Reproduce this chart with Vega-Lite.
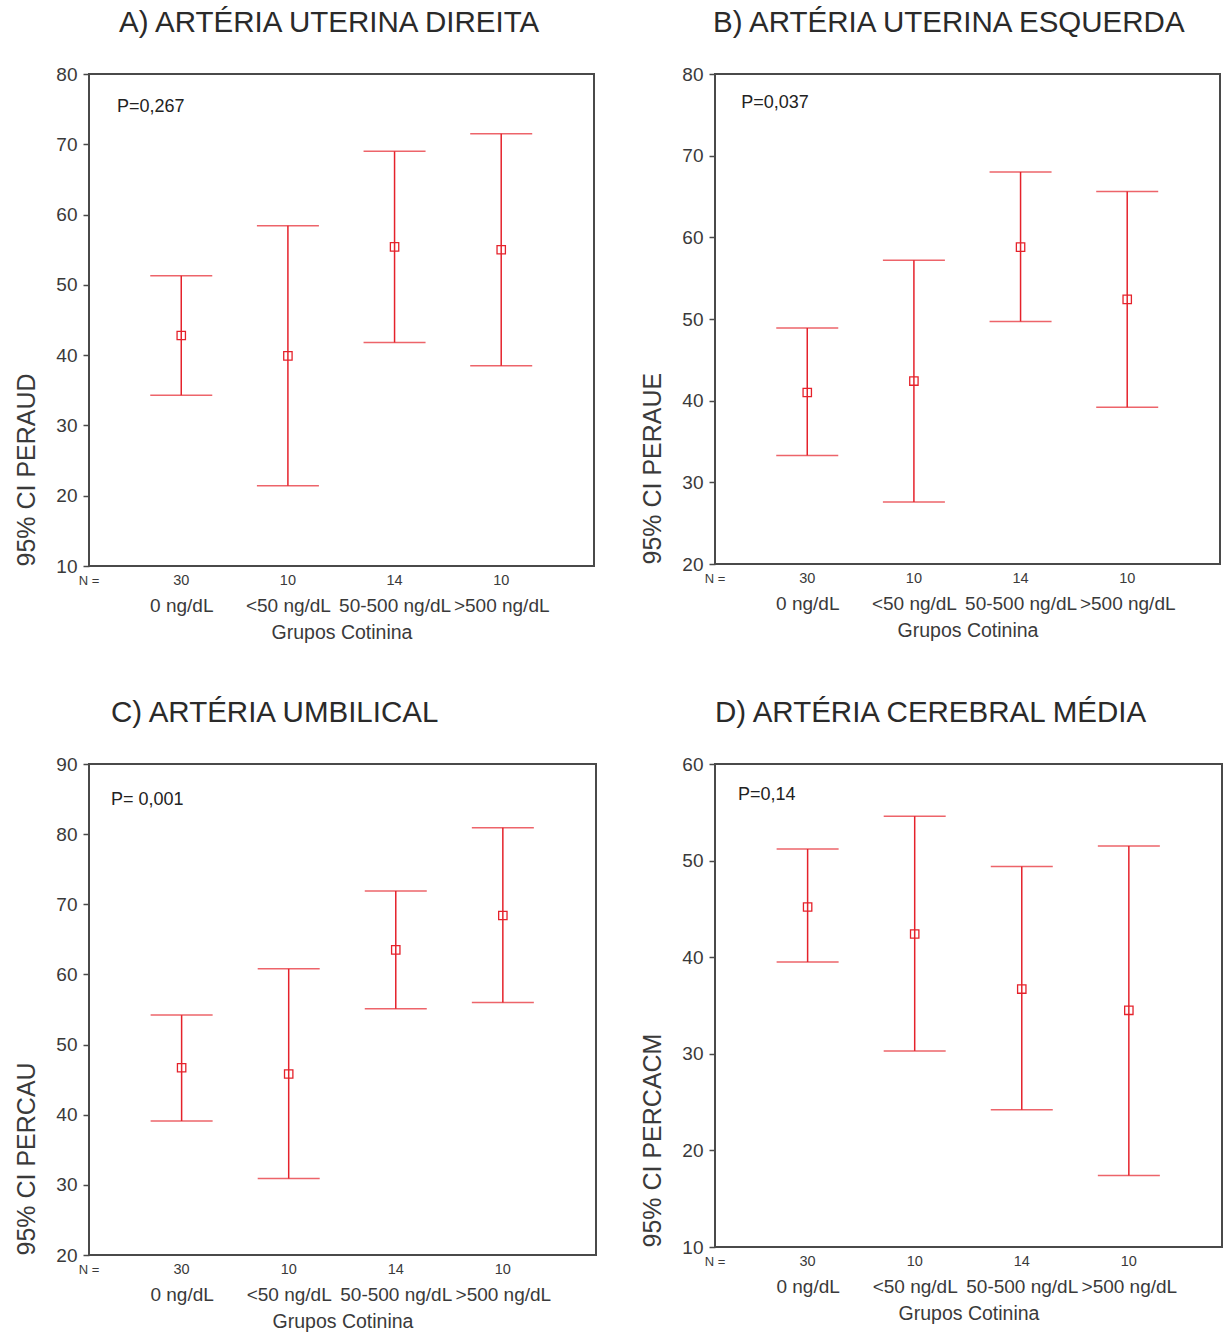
{
  "$schema": "https://vega.github.io/schema/vega-lite/v6.json",
  "padding": {"left": 13, "top": 6, "right": 5, "bottom": 5},
  "background": "white",
  "columns": 2,
  "spacing": {"row": 53, "column": 42},
  "config": {
    "font": "Liberation Sans",
    "view": {"stroke": "#4a4a4a", "strokeWidth": 2},
    "title": {"fontSize": 29.5, "fontWeight": "normal", "color": "#2a2a2a", "anchor": "start", "frame": "group", "offset": 27},
    "axis": {"grid": false, "domain": false, "labelFont": "Liberation Sans", "titleFont": "Liberation Sans", "labelColor": "#3a3a3a", "titleColor": "#3a3a3a", "titleFontWeight": "normal"},
    "axisY": {"tickSize": 6, "tickColor": "#4a4a4a", "tickWidth": 1.5, "labelFontSize": 19, "labelPadding": 6, "titleFontSize": 25, "titleAnchor": "start", "titlePadding": 16, "labelFlush": false},
    "axisX": {"ticks": false, "tickSize": 0, "labelFontSize": 19, "labelPadding": 30, "titleFontSize": 19.5, "titlePadding": 8, "labelFlush": false, "values": [1, 2, 3, 4], "labelExpr": "['', '0 ng/dL', '<50 ng/dL', '50-500 ng/dL', '>500 ng/dL'][datum.value]"}
  },
  "datasets": {
    "ci": [
      {"panel": "A", "pos": 1, "grupo": "0 ng/dL", "n": 30, "lo": 34.3, "mean": 42.8, "hi": 51.3},
      {"panel": "A", "pos": 2, "grupo": "<50 ng/dL", "n": 10, "lo": 21.4, "mean": 39.9, "hi": 58.4},
      {"panel": "A", "pos": 3, "grupo": "50-500 ng/dL", "n": 14, "lo": 41.8, "mean": 55.4, "hi": 69.0},
      {"panel": "A", "pos": 4, "grupo": ">500 ng/dL", "n": 10, "lo": 38.5, "mean": 55.0, "hi": 71.5},
      {"panel": "B", "pos": 1, "grupo": "0 ng/dL", "n": 30, "lo": 33.3, "mean": 41.0, "hi": 48.9},
      {"panel": "B", "pos": 2, "grupo": "<50 ng/dL", "n": 10, "lo": 27.6, "mean": 42.4, "hi": 57.2},
      {"panel": "B", "pos": 3, "grupo": "50-500 ng/dL", "n": 14, "lo": 49.7, "mean": 58.8, "hi": 68.0},
      {"panel": "B", "pos": 4, "grupo": ">500 ng/dL", "n": 10, "lo": 39.2, "mean": 52.4, "hi": 65.6},
      {"panel": "C", "pos": 1, "grupo": "0 ng/dL", "n": 30, "lo": 39.1, "mean": 46.7, "hi": 54.2},
      {"panel": "C", "pos": 2, "grupo": "<50 ng/dL", "n": 10, "lo": 30.9, "mean": 45.8, "hi": 60.8},
      {"panel": "C", "pos": 3, "grupo": "50-500 ng/dL", "n": 14, "lo": 55.1, "mean": 63.5, "hi": 71.9},
      {"panel": "C", "pos": 4, "grupo": ">500 ng/dL", "n": 10, "lo": 56.0, "mean": 68.4, "hi": 80.9},
      {"panel": "D", "pos": 1, "grupo": "0 ng/dL", "n": 30, "lo": 39.5, "mean": 45.2, "hi": 51.2},
      {"panel": "D", "pos": 2, "grupo": "<50 ng/dL", "n": 10, "lo": 30.3, "mean": 42.4, "hi": 54.6},
      {"panel": "D", "pos": 3, "grupo": "50-500 ng/dL", "n": 14, "lo": 24.2, "mean": 36.7, "hi": 49.4},
      {"panel": "D", "pos": 4, "grupo": ">500 ng/dL", "n": 10, "lo": 17.4, "mean": 34.5, "hi": 51.5}
    ]
  },
  "concat": [
    {
      "width": 505, "height": 492,
      "title": {"text": "A) ARTÉRIA UTERINA DIREITA", "dx": 30},
      "data": {"name": "ci"},
      "transform": [{"filter": "datum.panel == 'A'"}],
      "encoding": {"x": {"field": "pos", "type": "quantitative", "scale": {"domain": [0.135, 4.87]}, "title": "Grupos Cotinina"}},
      "layer": [
        {"mark": {"type": "rule", "color": "#e5222b", "strokeWidth": 1.5}, "encoding": {"y": {"field": "lo", "type": "quantitative", "scale": {"domain": [10, 80]}, "axis": {"values": [10, 20, 30, 40, 50, 60, 70, 80]}, "title": "95% CI PERAUD"}, "y2": {"field": "hi"}}},
        {"mark": {"type": "tick", "orient": "horizontal", "size": 62, "thickness": 1.5, "color": "#e5222b"}, "encoding": {"y": {"field": "lo", "type": "quantitative", "title": "95% CI PERAUD"}}},
        {"mark": {"type": "tick", "orient": "horizontal", "size": 62, "thickness": 1.5, "color": "#e5222b"}, "encoding": {"y": {"field": "hi", "type": "quantitative", "title": "95% CI PERAUD"}}},
        {"mark": {"type": "point", "shape": "square", "filled": false, "size": 70, "strokeWidth": 1.3, "color": "#e5222b", "opacity": 1}, "encoding": {"y": {"field": "mean", "type": "quantitative", "title": "95% CI PERAUD"}}},
        {"mark": {"type": "text", "dy": 15, "fontSize": 14.5, "baseline": "middle", "color": "#3a3a3a"}, "encoding": {"y": {"datum": 10, "type": "quantitative", "title": "95% CI PERAUD"}, "text": {"field": "n"}}},
        {"transform": [{"filter": "datum.pos == 1"}], "mark": {"type": "text", "text": "N =", "dy": 15, "fontSize": 13, "baseline": "middle", "color": "#3a3a3a"}, "encoding": {"x": {"datum": 0.135, "type": "quantitative"}, "y": {"datum": 10, "type": "quantitative", "title": "95% CI PERAUD"}}},
        {"transform": [{"filter": "datum.pos == 1"}], "mark": {"type": "text", "text": "P=0,267", "align": "left", "baseline": "middle", "fontSize": 18, "color": "#222"}, "encoding": {"x": {"datum": 0.397, "type": "quantitative"}, "y": {"datum": 75.3, "type": "quantitative", "title": "95% CI PERAUD"}}}
      ]
    },
    {
      "width": 505, "height": 490,
      "title": {"text": "B) ARTÉRIA UTERINA ESQUERDA", "dx": -2},
      "data": {"name": "ci"},
      "transform": [{"filter": "datum.panel == 'B'"}],
      "encoding": {"x": {"field": "pos", "type": "quantitative", "scale": {"domain": [0.135, 4.87]}, "title": "Grupos Cotinina"}},
      "layer": [
        {"mark": {"type": "rule", "color": "#e5222b", "strokeWidth": 1.5}, "encoding": {"y": {"field": "lo", "type": "quantitative", "scale": {"domain": [20, 80]}, "axis": {"values": [20, 30, 40, 50, 60, 70, 80]}, "title": "95% CI PERAUE"}, "y2": {"field": "hi"}}},
        {"mark": {"type": "tick", "orient": "horizontal", "size": 62, "thickness": 1.5, "color": "#e5222b"}, "encoding": {"y": {"field": "lo", "type": "quantitative", "title": "95% CI PERAUE"}}},
        {"mark": {"type": "tick", "orient": "horizontal", "size": 62, "thickness": 1.5, "color": "#e5222b"}, "encoding": {"y": {"field": "hi", "type": "quantitative", "title": "95% CI PERAUE"}}},
        {"mark": {"type": "point", "shape": "square", "filled": false, "size": 70, "strokeWidth": 1.3, "color": "#e5222b", "opacity": 1}, "encoding": {"y": {"field": "mean", "type": "quantitative", "title": "95% CI PERAUE"}}},
        {"mark": {"type": "text", "dy": 15, "fontSize": 14.5, "baseline": "middle", "color": "#3a3a3a"}, "encoding": {"y": {"datum": 20, "type": "quantitative", "title": "95% CI PERAUE"}, "text": {"field": "n"}}},
        {"transform": [{"filter": "datum.pos == 1"}], "mark": {"type": "text", "text": "N =", "dy": 15, "fontSize": 13, "baseline": "middle", "color": "#3a3a3a"}, "encoding": {"x": {"datum": 0.135, "type": "quantitative"}, "y": {"datum": 20, "type": "quantitative", "title": "95% CI PERAUE"}}},
        {"transform": [{"filter": "datum.pos == 1"}], "mark": {"type": "text", "text": "P=0,037", "align": "left", "baseline": "middle", "fontSize": 18, "color": "#222"}, "encoding": {"x": {"datum": 0.38, "type": "quantitative"}, "y": {"datum": 76.45, "type": "quantitative", "title": "95% CI PERAUE"}}}
      ]
    },
    {
      "width": 507, "height": 491,
      "title": {"text": "C) ARTÉRIA UMBILICAL", "dx": 22},
      "data": {"name": "ci"},
      "transform": [{"filter": "datum.panel == 'C'"}],
      "encoding": {"x": {"field": "pos", "type": "quantitative", "scale": {"domain": [0.135, 4.87]}, "title": "Grupos Cotinina"}},
      "layer": [
        {"mark": {"type": "rule", "color": "#e5222b", "strokeWidth": 1.5}, "encoding": {"y": {"field": "lo", "type": "quantitative", "scale": {"domain": [20, 90]}, "axis": {"values": [20, 30, 40, 50, 60, 70, 80, 90]}, "title": "95% CI PERCAU"}, "y2": {"field": "hi"}}},
        {"mark": {"type": "tick", "orient": "horizontal", "size": 62, "thickness": 1.5, "color": "#e5222b"}, "encoding": {"y": {"field": "lo", "type": "quantitative", "title": "95% CI PERCAU"}}},
        {"mark": {"type": "tick", "orient": "horizontal", "size": 62, "thickness": 1.5, "color": "#e5222b"}, "encoding": {"y": {"field": "hi", "type": "quantitative", "title": "95% CI PERCAU"}}},
        {"mark": {"type": "point", "shape": "square", "filled": false, "size": 70, "strokeWidth": 1.3, "color": "#e5222b", "opacity": 1}, "encoding": {"y": {"field": "mean", "type": "quantitative", "title": "95% CI PERCAU"}}},
        {"mark": {"type": "text", "dy": 15, "fontSize": 14.5, "baseline": "middle", "color": "#3a3a3a"}, "encoding": {"y": {"datum": 20, "type": "quantitative", "title": "95% CI PERCAU"}, "text": {"field": "n"}}},
        {"transform": [{"filter": "datum.pos == 1"}], "mark": {"type": "text", "text": "N =", "dy": 15, "fontSize": 13, "baseline": "middle", "color": "#3a3a3a"}, "encoding": {"x": {"datum": 0.135, "type": "quantitative"}, "y": {"datum": 20, "type": "quantitative", "title": "95% CI PERCAU"}}},
        {"transform": [{"filter": "datum.pos == 1"}], "mark": {"type": "text", "text": "P= 0,001", "align": "left", "baseline": "middle", "fontSize": 18, "color": "#222"}, "encoding": {"x": {"datum": 0.341, "type": "quantitative"}, "y": {"datum": 84.9, "type": "quantitative", "title": "95% CI PERCAU"}}}
      ]
    },
    {
      "width": 507, "height": 483,
      "title": {"text": "D) ARTÉRIA CEREBRAL MÉDIA", "dx": 0},
      "data": {"name": "ci"},
      "transform": [{"filter": "datum.panel == 'D'"}],
      "encoding": {"x": {"field": "pos", "type": "quantitative", "scale": {"domain": [0.135, 4.87]}, "title": "Grupos Cotinina"}},
      "layer": [
        {"mark": {"type": "rule", "color": "#e5222b", "strokeWidth": 1.5}, "encoding": {"y": {"field": "lo", "type": "quantitative", "scale": {"domain": [10, 60]}, "axis": {"values": [10, 20, 30, 40, 50, 60]}, "title": "95% CI PERCACM"}, "y2": {"field": "hi"}}},
        {"mark": {"type": "tick", "orient": "horizontal", "size": 62, "thickness": 1.5, "color": "#e5222b"}, "encoding": {"y": {"field": "lo", "type": "quantitative", "title": "95% CI PERCACM"}}},
        {"mark": {"type": "tick", "orient": "horizontal", "size": 62, "thickness": 1.5, "color": "#e5222b"}, "encoding": {"y": {"field": "hi", "type": "quantitative", "title": "95% CI PERCACM"}}},
        {"mark": {"type": "point", "shape": "square", "filled": false, "size": 70, "strokeWidth": 1.3, "color": "#e5222b", "opacity": 1}, "encoding": {"y": {"field": "mean", "type": "quantitative", "title": "95% CI PERCACM"}}},
        {"mark": {"type": "text", "dy": 15, "fontSize": 14.5, "baseline": "middle", "color": "#3a3a3a"}, "encoding": {"y": {"datum": 10, "type": "quantitative", "title": "95% CI PERCACM"}, "text": {"field": "n"}}},
        {"transform": [{"filter": "datum.pos == 1"}], "mark": {"type": "text", "text": "N =", "dy": 15, "fontSize": 13, "baseline": "middle", "color": "#3a3a3a"}, "encoding": {"x": {"datum": 0.135, "type": "quantitative"}, "y": {"datum": 10, "type": "quantitative", "title": "95% CI PERCACM"}}},
        {"transform": [{"filter": "datum.pos == 1"}], "mark": {"type": "text", "text": "P=0,14", "align": "left", "baseline": "middle", "fontSize": 18, "color": "#222"}, "encoding": {"x": {"datum": 0.35, "type": "quantitative"}, "y": {"datum": 56.8, "type": "quantitative", "title": "95% CI PERCACM"}}}
      ]
    }
  ]
}
